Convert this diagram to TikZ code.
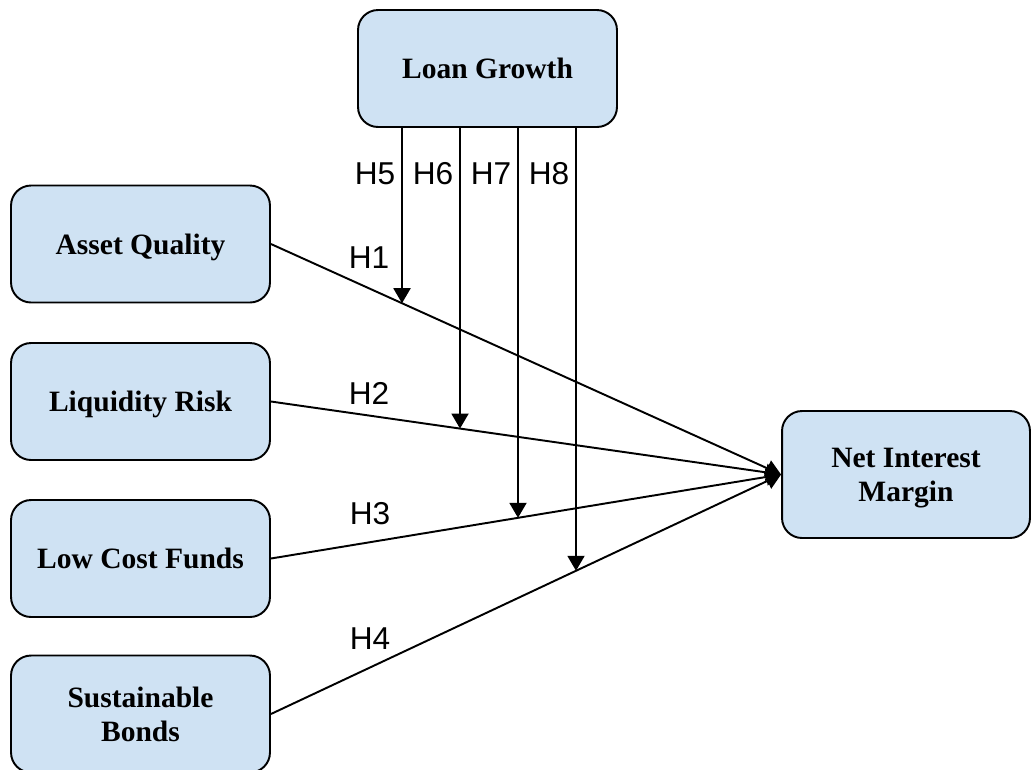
\documentclass[tikz,border=0pt]{standalone}
\usepackage{fontspec}
\setmainfont{Liberation Serif}
\setsansfont{Liberation Sans}
\usetikzlibrary{arrows.meta,intersections}

\definecolor{boxblue}{HTML}{CFE2F3}
\tikzset{
  var/.style={draw, line width=1.1pt, fill=boxblue, rounded corners=0.4cm,
    minimum width=5.18cm, minimum height=2.34cm, align=center, text depth=0pt,
    font=\fontsize{16.8}{19.5}\selectfont\bfseries},
  hlab/.style={font=\sffamily\fontsize{18}{21}\selectfont},
  link/.style={line width=1.1pt, -{Triangle[length=0.3cm,width=0.34cm]}}
}

\begin{document}
\begin{tikzpicture}[x=0.02cm, y=-0.02cm]
    \useasboundingbox (0,0) rectangle (1031,769);
    % moderator and outcome
    \node[var] (lg) at (487.5,68.5) {Loan Growth};
    \node[var, minimum width=4.96cm, minimum height=2.54cm] (nim) at (906,474.5) {Net Interest\\Margin};
    % predictors
    \node[var] (aq) at (140.5,244) {Asset Quality};
    \node[var] (lr) at (140.5,401.5) {Liquidity Risk};
    \node[var] (lcf) at (140.5,558.5) {Low Cost Funds};
    \node[var] (sb) at (140.5,714) {Sustainable\\Bonds};
    \foreach \src in {aq,lr,lcf,sb}
      \draw[link, name path=\src p] (\src.east) -- (nim.west);
    \node[hlab] (h1) at (369,258) {H1};
    \node[hlab] (h2) at (369,393) {H2};
    \node[hlab] (h3) at (370,514) {H3};
    \node[hlab] (h4) at (370,639) {H4};
    % moderating paths
    \foreach \x/\src/\n in {402/aq/5, 460/lr/6, 518/lcf/7, 576/sb/8}
    {
      \coordinate (t\n) at (\x,127);
      \path[name path=\n v] (t\n) -- (\x,769);
      \draw[link, name intersections={of=\n v and \src p}] (t\n) -- (intersection-1);
      \node[hlab] (h\n) at (\x-27,174) {H\n};
    }
\end{tikzpicture}
\end{document}
